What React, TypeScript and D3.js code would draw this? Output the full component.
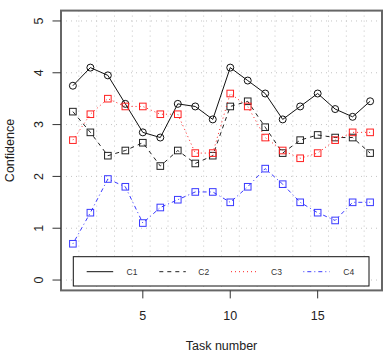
import React from "react";
import * as d3 from "d3";

const tasks = [1, 2, 3, 4, 5, 6, 7, 8, 9, 10, 11, 12, 13, 14, 15, 16, 17, 18];
const c1 = [3.75, 4.1, 3.95, 3.4, 2.85, 2.75, 3.4, 3.35, 3.1, 4.1, 3.85, 3.6, 3.1, 3.35, 3.6, 3.3, 3.15, 3.45];
const c2 = [3.25, 2.85, 2.4, 2.5, 2.65, 2.2, 2.5, 2.25, 2.4, 3.35, 3.45, 2.95, 2.45, 2.7, 2.8, 2.75, 2.75, 2.45];
const c3 = [2.7, 3.2, 3.5, 3.35, 3.35, 3.2, 3.2, 2.45, 2.45, 3.6, 3.35, 2.75, 2.5, 2.35, 2.45, 2.7, 2.85, 2.85];
const c4 = [0.7, 1.3, 1.95, 1.8, 1.1, 1.4, 1.55, 1.7, 1.7, 1.5, 1.8, 2.15, 1.85, 1.5, 1.3, 1.15, 1.5, 1.5];
const seriesNames = ["C1", "C2", "C3", "C4"];
const xTicks = [5, 10, 15];
const yTicks = [0, 1, 2, 3, 4, 5];

const FONT = "'Liberation Sans', Arial, Helvetica, sans-serif";

type S = { name: string; values: number[]; color: string; dash: string | null; shape: "circle" | "square" };

export default function App() {
  const series: S[] = [
    { name: seriesNames[0], values: c1, color: "#111", dash: null, shape: "circle" },
    { name: seriesNames[1], values: c2, color: "#222", dash: "4,4", shape: "square" },
    { name: seriesNames[2], values: c3, color: "#ff2020", dash: "1,3", shape: "square" },
    { name: seriesNames[3], values: c4, color: "#3a3aff", dash: "1,3,4,3", shape: "square" },
  ];
  const left = 61, right = 382, top = 10.6, bottom = 290.4;
  const xMin = d3.min(tasks)!, xMax = d3.max(tasks)!;
  const xPad = (xMax - xMin) * 0.04;
  const x = d3.scaleLinear().domain([xMin - xPad, xMax + xPad]).range([left, right]);
  const y = d3.scaleLinear().domain([-0.2, 5.2]).range([bottom, top]);
  const nx = 18;
  const [d0, d1] = x.domain();
  const gridX = d3.range(1, nx).map((k) => d0 + (k * (d1 - d0)) / nx);

  const line = d3
    .line<number>()
    .x((_, i) => x(tasks[i]))
    .y((v) => y(v));

  const legendItems = [
    { lx: 86.7, tx: 126.5 },
    { lx: 159.3, tx: 198.3 },
    { lx: 231, tx: 271 },
    { lx: 303.3, tx: 343.3 },
  ];
  const legY = 271.7;

  return (
    <div style={{ position: "fixed", left: 0, top: 0 }}>
      <svg width={388} height={360} style={{ display: "block", background: "#fff" }} fontFamily={FONT}>
        <rect x={0} y={0} width={388} height={360} fill="#fff" />
        {/* grid */}
        <g stroke="#c4c4c4" strokeWidth={1} strokeDasharray="1,4">
          {gridX.map((g, i) => (
            <line key={"gx" + i} x1={x(g)} x2={x(g)} y1={top} y2={bottom} />
          ))}
          {yTicks.map((t) => (
            <line key={"gy" + t} x1={left} x2={right} y1={y(t)} y2={y(t)} />
          ))}
        </g>
        {/* series */}
        {series.map((s) => (
          <g key={s.name}>
            {s.values.map((v, i) =>
              s.shape === "circle" ? (
                <circle key={i} cx={x(tasks[i])} cy={y(v)} r={3.5} fill="none" stroke={s.color} strokeWidth={1} />
              ) : (
                <rect key={i} x={x(tasks[i]) - 3.3} y={y(v) - 3.3} width={6.6} height={6.6} fill="none" stroke={s.color} strokeWidth={1} />
              )
            )}
            <path d={line(s.values) || ""} fill="none" stroke={s.color} strokeWidth={1} strokeDasharray={s.dash || undefined} />
          </g>
        ))}
        {/* legend */}
        <rect x={73.3} y={256.7} width={295.7} height={29.3} fill="#fff" stroke="#111" strokeWidth={1} />
        {series.map((s, i) => (
          <g key={"leg" + s.name}>
            <line x1={legendItems[i].lx} x2={legendItems[i].lx + 26.5} y1={legY} y2={legY} stroke={s.color} strokeWidth={1} strokeDasharray={s.dash || undefined} />
            <text x={legendItems[i].tx} y={legY + 3.2} fontSize={8.5} fill="#333">{s.name}</text>
          </g>
        ))}
        {/* box */}
        <rect x={left} y={top} width={right - left} height={bottom - top} fill="none" stroke="#666" strokeWidth={2} />
        {/* x axis */}
        <g stroke="#333" strokeWidth={1}>
          {xTicks.map((t) => (
            <line key={"xt" + t} x1={x(t)} x2={x(t)} y1={bottom} y2={bottom + 8} />
          ))}
          {yTicks.map((t) => (
            <line key={"yt" + t} x1={left} x2={left - 8.5} y1={y(t)} y2={y(t)} />
          ))}
        </g>
        {xTicks.map((t) => (
          <text key={"xl" + t} x={x(t)} y={319.5} fontSize={12.5} textAnchor="middle" fill="#222">{t}</text>
        ))}
        {yTicks.map((t) => (
          <text key={"yl" + t} transform={`translate(43,${y(t)}) rotate(-90)`} fontSize={12.5} textAnchor="middle" fill="#222">{t}</text>
        ))}
        <text x={(left + right) / 2} y={349.5} fontSize={12.5} textAnchor="middle" fill="#222">Task number</text>
        <text transform={`translate(14,${(top + bottom) / 2}) rotate(-90)`} fontSize={12.5} textAnchor="middle" fill="#222">Confidence</text>
      </svg>
    </div>
  );
}
